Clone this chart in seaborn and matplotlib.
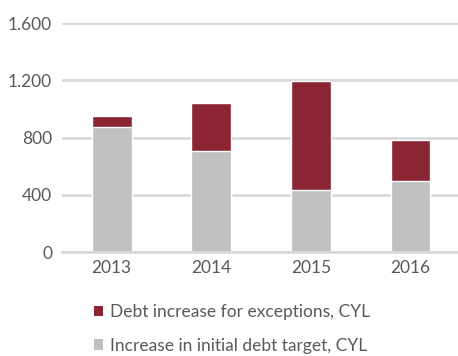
import matplotlib
matplotlib.use("Agg")
import matplotlib.pyplot as plt
import seaborn as sns
import pandas as pd
import numpy as np
from matplotlib.patches import Patch

years = ["2013", "2014", "2015", "2016"]
initial_target = [873, 705, 437, 496]
exceptions = [77, 340, 760, 290]
ytick_vals = [0, 400, 800, 1200, 1600]
ytick_labels = ["0", "400", "800", "1.200", "1.600"]
label_exc = "Debt increase for exceptions, CYL"
label_init = "Increase in initial debt target, CYL"

RED = "#8B2533"
GRAY = "#C0C0C0"
TXT = "#595959"
GRID = "#D9D9D9"

sns.set_theme(style="white")
plt.rcParams["font.family"] = ["Lato", "DejaVu Sans"]

df = pd.DataFrame({"year": years, "init": initial_target, "exc": exceptions})
df["total"] = df["init"] + df["exc"]

fig = plt.figure(figsize=(4.58, 3.56), dpi=100)
ax = fig.add_axes([0.135, 0.292, 0.87, 0.643])

sns.barplot(data=df, x="year", y="total", color=RED, saturation=1, width=0.4, ax=ax, zorder=3)
sns.barplot(data=df, x="year", y="init", color=GRAY, saturation=1, width=0.4, ax=ax, zorder=3)

ax.set_ylim(0, 1600)
ax.set_xlim(-0.5, 3.5)
ax.set_yticks(ytick_vals)
ax.set_yticklabels(ytick_labels)
ax.set_xlabel("")
ax.set_ylabel("")
ax.yaxis.grid(True, color=GRID, linewidth=2, zorder=0)
ax.set_axisbelow(True)
for s in ["top", "right", "left"]:
    ax.spines[s].set_visible(False)
ax.spines["bottom"].set_color(GRID)
ax.spines["bottom"].set_linewidth(2)
ax.spines["bottom"].set_zorder(4)
ax.tick_params(axis="y", length=0, pad=7, labelsize=12.5, labelcolor=TXT)
ax.tick_params(axis="x", which="major", length=0, pad=6, labelsize=12.5, labelcolor=TXT)
ax.set_xticks([-0.5, 0.5, 1.5, 2.5, 3.5], minor=True)
ax.tick_params(axis="x", which="minor", length=5, width=1.5, color=GRID, direction="out")

handles = [Patch(facecolor=RED, edgecolor="none", label=label_exc),
           Patch(facecolor=GRAY, edgecolor="none", label=label_init)]
fig.legend(handles=handles, loc="upper left", bbox_to_anchor=(0.205, 0.145),
           frameon=False, fontsize=12.5, labelcolor=TXT, handlelength=0.55,
           handleheight=0.55, handletextpad=0.35, labelspacing=1.0, borderaxespad=0,
           borderpad=0)

fig.savefig("out.png", dpi=100)
